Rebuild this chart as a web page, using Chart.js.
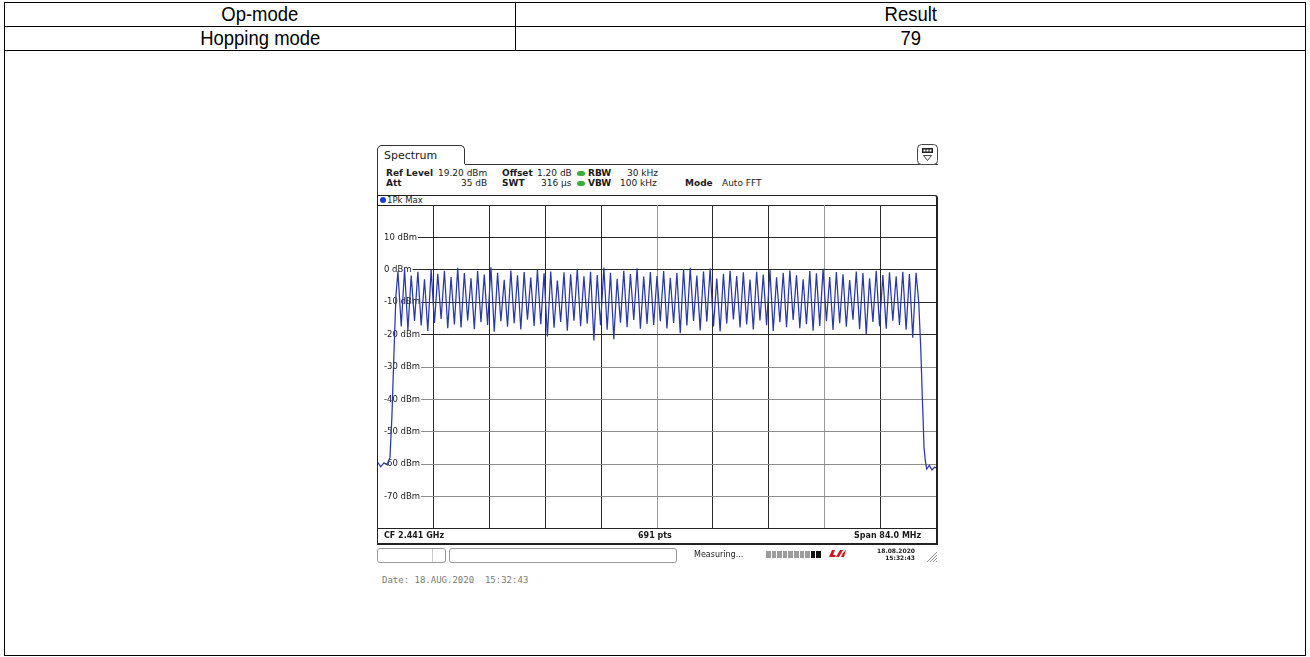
<!DOCTYPE html>
<html>
<head>
<meta charset="utf-8">
<title>Hopping mode - channel count</title>
<script src="https://cdn.jsdelivr.net/npm/chart.js@4.4.0/dist/chart.umd.min.js"></script>
<style>
  body { margin:0; background:#fff; width:1310px; height:657px; position:relative; overflow:hidden;
         font-family:"Liberation Sans", Arial, sans-serif; }
  .ln { position:absolute; background:#000; }
  .cell { position:absolute; text-align:center; font-size:21px; line-height:24px; color:#000; }
  .cell span { display:inline-block; transform:scaleX(0.88); }
  .sa { position:absolute; font-family:"DejaVu Sans", Verdana, sans-serif; color:#1a1a1a; white-space:nowrap; font-size:9px; line-height:10px; }
  .b { font-weight:bold; }
  #tab { position:absolute; left:377px; top:145px; width:88px; height:19px; border:1px solid #333; border-bottom:none; border-radius:5px 5px 0 0; box-sizing:border-box; }
  #frame { position:absolute; left:377px; top:195px; width:561px; height:350px; box-sizing:border-box;
           border:1px solid #222; border-right-width:2px; border-bottom-width:2px; border-top-right-radius:3px; }
  #trace { position:absolute; left:378px; top:205px; }
  .box { position:absolute; top:548px; height:15px; border:1px solid #9a9a9a; border-radius:3px; box-sizing:border-box; }
  #prog { position:absolute; left:766px; top:551px; display:flex; gap:1px; }
  #prog i { display:block; width:4.6px; height:7px; background:#9c9c9c; }
  #prog i.k { background:#111; }
</style>
</head>
<body>

<!-- result table -->
<div class="ln" style="left:4px;top:2px;width:1302px;height:1px"></div>
<div class="ln" style="left:4px;top:26px;width:1302px;height:1px"></div>
<div class="ln" style="left:4px;top:50px;width:1302px;height:1px"></div>
<div class="ln" style="left:4px;top:655px;width:1302px;height:1px"></div>
<div class="ln" style="left:4px;top:2px;width:1px;height:654px"></div>
<div class="ln" style="left:1305px;top:2px;width:1px;height:654px"></div>
<div class="ln" style="left:515px;top:2px;width:1px;height:48px"></div>
<div class="cell" style="left:5px;top:2px;width:510px"><span>Op-mode</span></div>
<div class="cell" style="left:516px;top:2px;width:789px"><span>Result</span></div>
<div class="cell" style="left:5px;top:26px;width:510px"><span>Hopping mode</span></div>
<div class="cell" style="left:516px;top:26px;width:789px"><span>79</span></div>

<!-- analyzer window -->
<div id="tab"></div>
<div class="sa" style="left:384px;top:149px;font-size:11px;line-height:13px">Spectrum</div>
<div class="ln" style="left:465px;top:164px;width:473px;height:1px;background:#333"></div>
<div class="ln" style="left:377px;top:164px;width:1px;height:32px;background:#333"></div>
<svg style="position:absolute;left:917px;top:144px" width="21" height="21">
  <rect x="0.5" y="0.5" width="20" height="20" rx="4" fill="#fff" stroke="#444"/>
  <rect x="5" y="4" width="11" height="5" fill="#222"/>
  <rect x="6.5" y="5.5" width="2" height="2" fill="#fff"/><rect x="9.5" y="5.5" width="2" height="2" fill="#fff"/><rect x="12.5" y="5.5" width="2" height="2" fill="#fff"/>
  <path d="M6.5 11.5 L14.5 11.5 L10.5 16.5 Z" fill="none" stroke="#444"/>
</svg>

<div class="sa b" style="left:386px;top:168px">Ref Level</div>
<div class="sa" style="left:438px;top:168px">19.20 dBm</div>
<div class="sa b" style="left:502px;top:168px">Offset</div>
<div class="sa" style="left:537px;top:168px">1.20 dB</div>
<div class="sa b" style="left:588px;top:168px">RBW</div>
<div class="sa" style="left:627px;top:168px">30 kHz</div>
<div class="sa b" style="left:386px;top:178px">Att</div>
<div class="sa" style="left:461px;top:178px">35 dB</div>
<div class="sa b" style="left:502px;top:178px">SWT</div>
<div class="sa" style="left:541px;top:178px">316 µs</div>
<div class="sa b" style="left:588px;top:178px">VBW</div>
<div class="sa" style="left:620px;top:178px">100 kHz</div>
<div class="sa b" style="left:685px;top:178px">Mode</div>
<div class="sa" style="left:722px;top:178px">Auto FFT</div>
<div style="position:absolute;left:577px;top:171px;width:8px;height:5px;border-radius:3px;background:#3cae3c"></div>
<div style="position:absolute;left:577px;top:181px;width:8px;height:5px;border-radius:3px;background:#3cae3c"></div>

<div id="frame"></div>
<div style="position:absolute;left:380px;top:197px;width:6px;height:6px;border-radius:3px;background:#1b3bd6"></div>
<div class="sa" style="left:387px;top:195px;font-size:8.5px">1Pk Max</div>
<div class="ln" style="left:378px;top:205px;width:558px;height:1px;background:#222"></div>
<canvas id="trace" width="558" height="324"></canvas>
<div class="ln" style="left:378px;top:528px;width:558px;height:1px;background:#222"></div>
<div class="sa b" style="left:384px;top:531px;font-size:8px">CF 2.441 GHz</div>
<div class="sa b" style="left:638px;top:531px;font-size:8px">691 pts</div>
<div class="sa b" style="left:854px;top:531px;font-size:8px">Span 84.0 MHz</div>

<!-- status line -->
<div class="box" style="left:377px;width:69px"></div>
<div class="ln" style="left:432px;top:549px;width:1px;height:13px;background:#ccc"></div>
<div class="box" style="left:449px;width:228px"></div>
<div class="sa" style="left:694px;top:550px;font-size:8px">Measuring...</div>
<div id="prog"><i></i><i></i><i></i><i></i><i></i><i></i><i></i><i></i><i class="k"></i><i class="k"></i></div>
<svg style="position:absolute;left:827px;top:549px" width="20" height="9">
  <path d="M2 8 L5 1 L8 1 L6 6 L9 6 L8 8 Z M9 8 L13 1 L16 1 L12 8 Z M14 8 L16 4 L19 1 L17 8 Z" fill="#d01818"/>
</svg>
<div class="sa b" style="left:860px;top:547px;width:55px;text-align:right;font-size:6px;line-height:7px">18.08.2020<br>15:32:43</div>
<svg style="position:absolute;left:926px;top:551px" width="12" height="12">
  <path d="M11 1 L1 11 M11 4 L4 11 M11 7 L7 11 M11 10 L10 11" stroke="#777" stroke-width="0.8"/>
</svg>

<div class="sa" style="left:382px;top:575px;font-family:'DejaVu Sans Mono',monospace;color:#7a7a7a;white-space:pre">Date: 18.AUG.2020  15:32:43</div>

<script>
// sweep settings
const spanStartMHz = 2399.0;
const spanStopMHz = 2483.0;
const firstChannelMHz = 2402;
const channelStepMHz = 1;
const yTickDbm = [10, 0, -10, -20, -30, -40, -50, -60, -70];

// max-hold level on each hopping channel (ch 0..78), dBm
const peakDbm = [
  -0.5, 0.2, -1.8, -0.6, -2.9, 0.1, -1.2, -0.3, -2.2, 0.6,
  -1.0, -2.6, -0.4, -1.5, 0.8, -0.9, -3.1, -0.2, -1.7, -0.7,
  -2.4, 0.0, -1.1, -0.5, -3.3, -0.8, -1.4, 0.3, -2.0, -0.6,
  -1.6, 0.7, -0.9, -2.8, -0.3, -1.3, 0.5, -2.1, -0.7, -1.9,
  -0.4, -2.5, -1.0, 0.2, 0.6, -1.8, -0.5, 0.4, -2.7, -1.2,
  -0.3, -1.9, -0.8, -3.0, -0.6, -1.5, 0.1, -2.3, -0.9, -0.2,
  -1.7, -2.9, -0.4, -1.1, 0.3, -2.2, -0.7, -1.4, -3.2, -0.5,
  -1.0, -2.6, -0.3, -1.6, -0.8, -2.0, -0.6, -1.3, -0.9
];

// level halfway between neighbouring channels, dBm
const dipDbm = [
  -17.5, -18.6, -15.8, -17.2, -18.9, -16.4, -15.2, -18.0, -16.9, -17.8,
  -15.6, -18.3, -16.2, -17.0, -19.1, -15.9, -17.6, -16.5, -18.4, -15.4,
  -17.3, -16.8, -20.6, -17.9, -16.1, -18.8, -15.7, -17.4, -16.6, -21.8,
  -17.1, -18.5, -21.4, -16.3, -17.7, -15.5, -18.2, -16.7, -17.0, -15.9,
  -18.1, -16.4, -19.6, -17.2, -15.8, -18.7, -16.0, -17.5, -19.0, -16.6,
  -15.3, -17.8, -16.9, -18.4, -15.6, -17.1, -18.9, -16.2, -17.7, -15.5,
  -18.0, -16.8, -18.8, -17.3, -15.9, -18.6, -16.5, -17.6, -15.4, -18.3,
  -19.8, -16.1, -17.4, -18.2, -15.7, -17.0, -18.5, -21.0
];

// band edges below the first and above the last channel
const lowEdgeMHz  = [2399.0, 2399.4, 2399.9, 2400.4, 2400.8, 2401.1, 2401.4, 2401.7];
const lowEdgeDbm  = [-59.5, -60.8, -59.6, -60.2, -58.0, -45.0, -26.0, -8.0];
const highEdgeMHz = [2480.4, 2480.7, 2480.95, 2481.05, 2481.2, 2481.4, 2481.6, 2482.0, 2482.4, 2482.8, 2483.0];
const highEdgeDbm = [-10.0, -24.0, -40.0, -45.5, -55.0, -59.0, -61.5, -60.4, -61.8, -60.9, -61.2];

// grid shade per line (screen copy has some lighter lines)
const hGridColor = ['#2a2a2a', '#2a2a2a', '#2a2a2a', '#2a2a2a', '#8c8c8c', '#8c8c8c', '#8c8c8c', '#8c8c8c', '#8c8c8c'];
const vGridColor = ['#2a2a2a', '#2a2a2a', '#2a2a2a', '#2a2a2a', '#9a9a9a', '#2a2a2a', '#2a2a2a', '#9a9a9a', '#2a2a2a'];

// build the trace
const trace = [];
lowEdgeMHz.forEach((f, i) => trace.push({ x: f, y: lowEdgeDbm[i] }));
peakDbm.forEach((p, ch) => {
  const f = firstChannelMHz + ch * channelStepMHz;
  trace.push({ x: f, y: p });
  if (ch < dipDbm.length) trace.push({ x: f + channelStepMHz / 2, y: dipDbm[ch] });
});
highEdgeMHz.forEach((f, i) => trace.push({ x: f, y: highEdgeDbm[i] }));

const divMHz = (spanStopMHz - spanStartMHz) / 10;

new Chart(document.getElementById('trace'), {
  type: 'line',
  data: {
    datasets: [{
      label: '1Pk Max',
      data: trace,
      borderColor: '#2a38a8',
      borderWidth: 1.25,
      pointRadius: 0,
      tension: 0
    }]
  },
  options: {
    responsive: false,
    animation: false,
    devicePixelRatio: 1,
    layout: { padding: 0, autoPadding: false },
    plugins: { legend: { display: false }, tooltip: { enabled: false } },
    scales: {
      x: {
        type: 'linear',
        min: spanStartMHz,
        max: spanStopMHz,
        afterBuildTicks: s => {
          s.ticks = [];
          for (let i = 1; i < 10; i++) s.ticks.push({ value: spanStartMHz + i * divMHz });
        },
        afterFit: s => { s.height = 0; s.paddingLeft = 0; s.paddingRight = 0; },
        ticks: { display: false },
        grid: { drawTicks: false, color: c => vGridColor[c.index] || '#2a2a2a', lineWidth: 1 },
        border: { display: false }
      },
      y: {
        min: -80,
        max: 20,
        afterBuildTicks: s => { s.ticks = yTickDbm.map(v => ({ value: v })); },
        // labels sit inside the plot, so the axis takes no room
        afterFit: s => { s.width = 0; s.paddingTop = 0; s.paddingBottom = 0; },
        ticks: {
          mirror: true,
          padding: 6,
          color: '#222',
          font: { family: 'DejaVu Sans', size: 8.5 },
          callback: v => v + ' dBm',
          showLabelBackdrop: true,
          backdropColor: '#fff',
          backdropPadding: { left: 6, right: 1, top: 0, bottom: 0 }
        },
        grid: { drawTicks: false, color: c => hGridColor[c.index] || '#2a2a2a', lineWidth: 1 },
        border: { display: false }
      }
    }
  }
});
</script>
</body>
</html>
